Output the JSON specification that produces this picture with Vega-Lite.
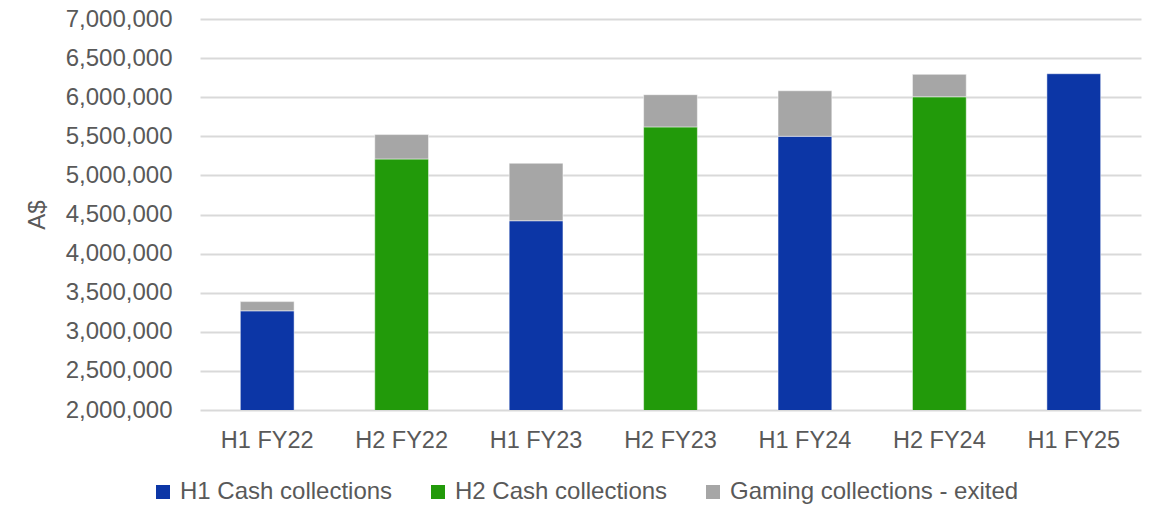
{
  "$schema": "https://vega.github.io/schema/vega-lite/v6.json",
  "autosize": {"type": "none"},
  "padding": {"left": 200, "top": 19, "right": 10, "bottom": 96},
  "width": 941,
  "height": 391,
  "background": "#ffffff",
  "config": {
    "font": "Liberation Sans",
    "view": {"stroke": null},
    "axis": {"labelFont": "Liberation Sans", "titleFont": "Liberation Sans", "labelColor": "#595959", "titleColor": "#595959"},
    "legend": {"labelFont": "Liberation Sans", "labelColor": "#595959"}
  },
  "data": {
    "values": [
      {"period": "H1 FY22", "series": "H1 Cash collections", "value": 3268000},
      {"period": "H1 FY22", "series": "Gaming collections - exited", "value": 118000},
      {"period": "H2 FY22", "series": "H2 Cash collections", "value": 5210000},
      {"period": "H2 FY22", "series": "Gaming collections - exited", "value": 312000},
      {"period": "H1 FY23", "series": "H1 Cash collections", "value": 4420000},
      {"period": "H1 FY23", "series": "Gaming collections - exited", "value": 735000},
      {"period": "H2 FY23", "series": "H2 Cash collections", "value": 5620000},
      {"period": "H2 FY23", "series": "Gaming collections - exited", "value": 412000},
      {"period": "H1 FY24", "series": "H1 Cash collections", "value": 5500000},
      {"period": "H1 FY24", "series": "Gaming collections - exited", "value": 582000},
      {"period": "H2 FY24", "series": "H2 Cash collections", "value": 6005000},
      {"period": "H2 FY24", "series": "Gaming collections - exited", "value": 287000},
      {"period": "H1 FY25", "series": "H1 Cash collections", "value": 6300000}
    ]
  },
  "mark": {"type": "bar", "clip": true, "stroke": "#ffffff", "strokeWidth": 0.8, "strokeOpacity": 0.6},
  "encoding": {
    "x": {
      "field": "period",
      "type": "nominal",
      "sort": null,
      "scale": {"paddingInner": 0.6, "paddingOuter": 0.3},
      "axis": {"title": null, "labelAngle": 0, "labelFontSize": 23.5, "labelPadding": 18, "ticks": false, "domain": false, "grid": false}
    },
    "y": {
      "field": "value",
      "type": "quantitative",
      "stack": "zero",
      "scale": {"domain": [2000000, 7000000], "zero": false, "nice": false},
      "axis": {
        "title": "A$",
        "titleFontSize": 24,
        "titleFontWeight": "normal",
        "titlePadding": 16,
        "labelFontSize": 24,
        "labelPadding": 28,
        "labelOverlap": false,
        "labelFlush": false,
        "ticks": false,
        "domain": false,
        "values": [2000000, 2500000, 3000000, 3500000, 4000000, 4500000, 5000000, 5500000, 6000000, 6500000, 7000000],
        "format": ",d",
        "grid": true,
        "gridColor": "#d9d9d9",
        "gridWidth": 2
      }
    },
    "color": {
      "field": "series",
      "type": "nominal",
      "scale": {
        "domain": ["H1 Cash collections", "H2 Cash collections", "Gaming collections - exited"],
        "range": ["#0C36A6", "#229A0A", "#A6A6A6"]
      },
      "legend": {
        "title": null,
        "orient": "none",
        "direction": "horizontal",
        "legendX": -49,
        "legendY": 461,
        "symbolType": "square",
        "symbolSize": 196,
        "symbolStrokeWidth": 0,
        "labelFontSize": 24,
        "labelOffset": 5,
        "columnPadding": 33,
        "labelLimit": 400
      }
    },
    "order": {"field": "series", "sort": "descending"}
  }
}
